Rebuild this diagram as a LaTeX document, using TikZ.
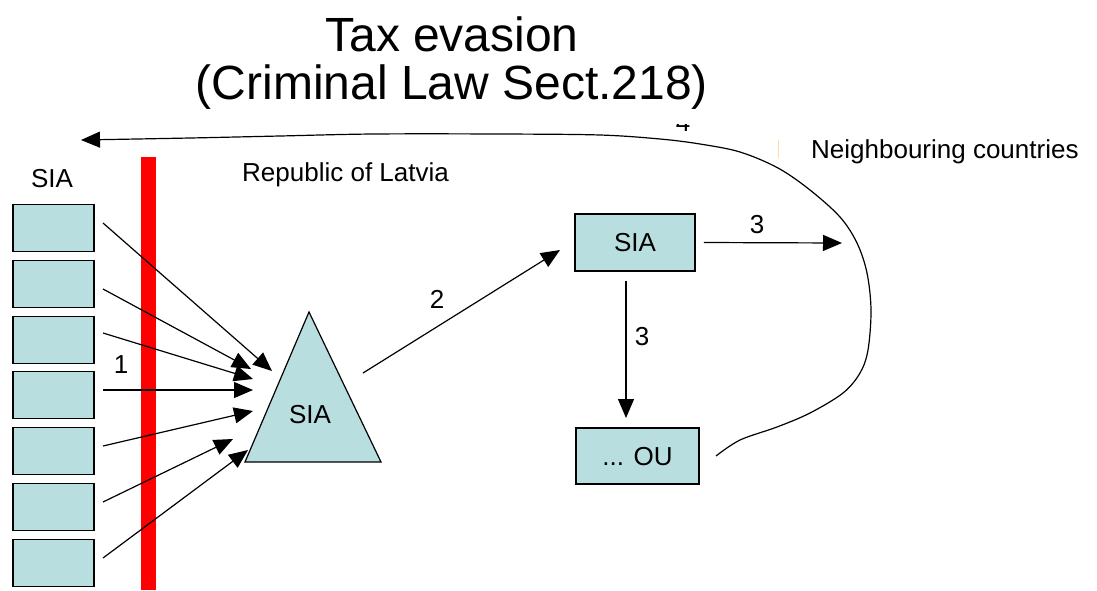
\documentclass[tikz,border=0pt]{standalone}
\usepackage{fontspec}
\setmainfont{Liberation Sans}
\usetikzlibrary{arrows.meta}
\definecolor{boxfill}{RGB}{185,222,224}
\definecolor{tick}{RGB}{255,222,160}
\tikzset{
  sbox/.style={draw=black, line width=1.6pt, fill=boxfill, inner sep=0pt},
  conn/.style={draw=black, line width=1.2pt, -{Triangle[length=19pt,width=16pt]}},
  lab/.style={font=\fontsize{26}{29}\selectfont, inner sep=0pt, anchor=base},
}
\begin{document}
\begin{tikzpicture}[x=1pt,y=-1pt]
\useasboundingbox (0,0) rectangle (1097,590);
% red border
\fill[red] (141,157) rectangle (156,590);
% left boxes
\foreach \i/\y in {1/228,2/284,3/340,4/395,5/451,6/507,7/563}{
  \node[sbox, minimum width=81pt, minimum height=47pt] (b\i) at (53.5,\y) {};
}
\node[lab] (siaL) at (52,187) {SIA};
\node[lab] (one) at (121,373) {1};
% triangle
\filldraw[fill=boxfill, draw=black, line width=1.2pt] (309,312) -- (381,462) -- (245,462) -- cycle;
\node[lab] (tri) at (310,423) {SIA};
% start and tip coordinates of the seven arrows
\coordinate (s1) at (103,223); \coordinate (t1) at (272,371);
\coordinate (s2) at (103,289); \coordinate (t2) at (251,369);
\coordinate (s3) at (103,333); \coordinate (t3) at (253,379);
\coordinate (s4) at (103,390); \coordinate (t4) at (253,390);
\coordinate (s5) at (103,446); \coordinate (t5) at (253,411);
\coordinate (s6) at (103,502); \coordinate (t6) at (233,439);
\coordinate (s7) at (103,558); \coordinate (t7) at (248,450);
\foreach \i in {1,...,7}{ \draw[conn] (s\i) -- (t\i); }
% right boxes
\node[sbox, minimum width=120pt, minimum height=57pt] (rs) at (635,242.5) {};
\node[lab] at (635,251) {SIA};
\node[sbox, minimum width=123pt, minimum height=56pt] (ou) at (637.5,456) {};
\node[lab] at (637.5,465) {... OU};
% arrow 2
\coordinate (a2s) at (363,373); \coordinate (a2t) at (560,250);
\draw[conn] (a2s) -- (a2t);
\node[lab] (two) at (437,308) {2};
% arrow 3 right
\coordinate (a3t) at (842,243);
\draw[conn] (rs.east) ++(8,0) coordinate (a3s) (a3s) -- (a3t);
\node[lab] (threeA) at (757,233) {3};
% arrow 3 down
\coordinate (a3d) at (626,281); \coordinate (a3dt) at (626,418);
\draw[conn] (a3d) -- (a3dt);
\node[lab] (threeB) at (642,345) {3};
% curve 4
\coordinate (c4s) at (716,456);
\coordinate (c4t) at (81,140);
\node[lab] (four) at (683,131) {4};
\draw[conn] plot[smooth, tension=0.55] coordinates {(c4s) (740,440) (777,427) (810,413) (843,393) (860,373) (868,350) (871,310) (867,273) (857,243) (840,217) (810,190) (778,168) (740,152) (700,144) (660,139) (600,135) (500,134) (373,134) (280,136) (190,138) (c4t)};
% title (white background hides most of the 4)
\node[fill=white, align=center, font=\fontsize{48}{48}\selectfont, inner xsep=6pt, inner ysep=14pt, anchor=south] (title) at (452,124) {Tax evasion\\(Criminal Law Sect.218)};
% texts
\node[lab, anchor=base west] (rl) at (242,181) {Republic of Latvia};
\node[lab, anchor=base west] (nc) at (811,158) {Neighbouring countries};
\draw[tick, line width=1pt] (778,140) -- (778,158);
\end{tikzpicture}
\end{document}
